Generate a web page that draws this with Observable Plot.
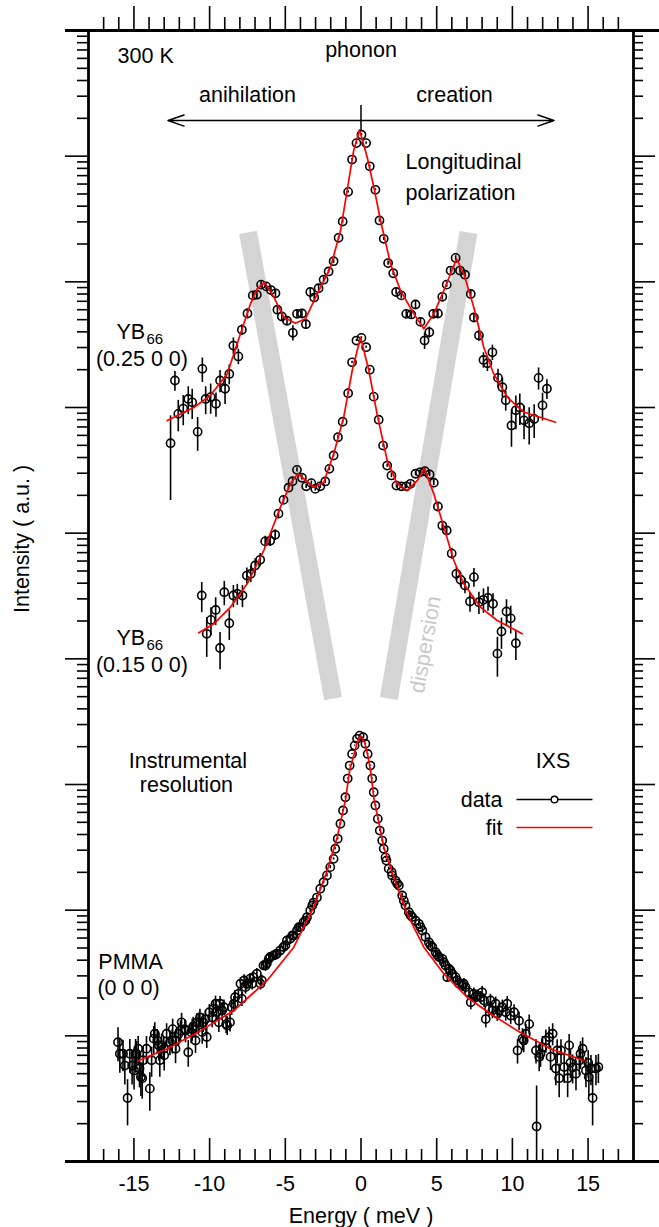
<!DOCTYPE html>
<html><head><meta charset="utf-8">
<script src="https://cdn.jsdelivr.net/npm/d3@7"></script>
<script src="https://cdn.jsdelivr.net/npm/@observablehq/plot@0.6"></script>
<style>body{margin:0;background:#fff}</style>
</head><body><div id="chart"></div>
<script>
// ---------- YB66 (0.25 0 0) ----------
const x25 = [-12.58,-12.29,-12.07,-11.74,-11.41,-11.15,-10.79,-10.48,-10.26,-9.93,
 -9.58,-9.31,-8.98,-8.70,-8.43,-8.10,-7.87,-7.50,-7.15,-6.88,
 -6.60,-6.26,-5.95,-5.65,-5.52,-5.23,-4.89,-4.50,-4.23,-3.90,
 -3.64,-3.35,-3.09,-2.80,-2.47,-2.14,-1.81,-1.48,-1.21,-0.85,
 -0.59,-0.30,0.03,0.34,0.58,0.95,1.22,1.50,1.79,2.13,
 2.32,2.66,2.99,3.32,3.60,3.93,4.20,4.51,4.77,5.08,
 5.37,5.66,5.92,6.25,6.54,6.87,7.25,7.46,7.79,8.09,
 8.35,8.68,9.05,9.34,9.56,9.94,10.23,10.49,10.77,11.11,
 11.44,11.73,11.99,12.28];
const y25 = [5.2e5,1.64e6,8.9e5,9.8e5,1.17e6,1.10e6,6.4e5,2.03e6,1.17e6,1.21e6,
 1.07e6,1.64e6,1.41e6,1.85e6,3.11e6,2.55e6,4.15e6,5.6e6,7.8e6,7.9e6,
 9.5e6,9.2e6,8.6e6,8.1e6,6.0e6,5.3e6,4.9e6,3.93e6,5.56e6,5.6e6,
 4.6e6,8.3e6,7.5e6,8.9e6,1.04e7,1.21e7,1.46e7,2.24e7,3.02e7,5.2e7,
 9.4e7,1.27e8,1.48e8,1.27e8,8.3e7,5.4e7,3.08e7,2.2e7,1.41e7,1.17e7,
 8.3e6,7.8e6,5.56e6,5.5e6,6.6e6,4.8e6,3.41e6,3.97e6,5.56e6,5.6e6,
 7.6e6,9.5e6,1.23e7,1.55e7,1.23e7,1.14e7,8.0e6,5.2e6,3.74e6,2.39e6,
 2.25e6,2.75e6,1.72e6,1.45e6,1.14e6,7.2e5,9.5e5,1.0e6,7.9e5,7.5e5,
 8.1e5,1.72e6,1.04e6,1.41e6];
const e25 = [0.65,0.18,0.28,0.27,0.25,0.27,0.3,0.22,0.25,0.27,
 0.22,0.2,0.25,0.18,0.15,0.14,0.1,0.09,0.07,0.07,
 0.06,0.06,0.06,0.07,0.07,0.08,0.08,0.14,0.08,0.08,
 0.08,0.06,0.06,0.05,0.05,0.04,0.04,0.03,0.03,0.02,
 0.02,0.02,0.02,0.02,0.02,0.02,0.03,0.03,0.04,0.04,
 0.05,0.06,0.07,0.07,0.08,0.08,0.15,0.1,0.07,0.07,
 0.06,0.05,0.05,0.04,0.05,0.05,0.06,0.07,0.1,0.14,
 0.14,0.14,0.17,0.18,0.18,0.33,0.3,0.28,0.3,0.33,
 0.3,0.2,0.25,0.18];
const fitX25 = [-12.80,-11.04,-9.94,-8.84,-7.96,-7.30,-6.86,-6.37,-5.76,-5.10,-4.33,-3.67,-2.89,-2.01,-1.35,-0.81,-0.48,-0.10,0.41,0.85,1.29,1.95,2.61,3.49,4.15,4.81,5.47,6.31,6.79,7.45,8.11,8.77,9.66,10.75,12.85];
const fitY25 = [7.88e5,1.0e6,1.25e6,1.85e6,3.86e6,6.68e6,8.8e6,9.93e6,7.55e6,5.23e6,4.69e6,5.08e6,8.03e6,1.31e7,2.56e7,6.4e7,1.11e8,1.62e8,9.8e7,5.66e7,3.08e7,1.39e7,8.53e6,5.56e6,4.23e6,5.56e6,8.53e6,1.52e7,1.16e7,6.28e6,3.02e6,1.85e6,1.21e6,9.2e5,7.64e5];

// ---------- YB66 (0.15 0 0) ----------
const x15 = [-10.52,-10.19,-9.91,-9.60,-9.31,-9.03,-8.70,-8.43,-8.17,-7.83,
 -7.54,-7.28,-6.99,-6.66,-6.33,-6.00,-5.67,-5.45,-5.12,-4.79,
 -4.52,-4.23,-3.90,-3.62,-3.28,-3.02,-2.69,-2.36,-2.09,-1.81,
 -1.52,-1.21,-0.85,-0.59,-0.30,0.03,0.34,0.58,0.84,1.17,
 1.46,1.73,2.01,2.34,2.66,2.99,3.27,3.60,3.89,4.22,
 4.53,4.81,5.08,5.37,5.66,5.99,6.30,6.58,6.87,7.20,
 7.46,7.79,8.09,8.39,8.72,9.01,9.28,9.61,9.89,10.23];
const y15 = [3.19e4,1.58e4,2.04e4,2.45e4,1.22e4,3.39e4,1.92e4,3.19e4,3.29e4,3.19e4,
 4.6e4,4.75e4,5.53e4,6.14e4,8.6e4,8.7e4,9.7e4,1.43e5,1.84e5,2.30e5,
 2.59e5,3.19e5,2.76e5,2.36e5,2.50e5,2.25e5,2.36e5,2.58e5,3.25e5,4.15e5,
 5.8e5,7.7e5,1.30e6,2.29e6,3.41e6,3.58e6,3.02e6,2.0e6,1.22e6,8.0e5,
 4.98e5,3.45e5,2.88e5,2.39e5,2.36e5,2.36e5,2.47e5,2.97e5,3.05e5,3.11e5,
 2.93e5,2.52e5,1.63e5,1.15e5,1.05e5,6.9e4,4.75e4,4.26e4,3.83e4,2.86e4,
 4.47e4,2.82e4,2.95e4,3.06e4,2.74e4,1.10e4,1.65e4,2.38e4,2.10e4,1.33e4];
const e15 = [0.27,0.35,0.25,0.25,0.33,0.22,0.27,0.2,0.19,0.2,
 0.15,0.15,0.13,0.12,0.1,0.1,0.1,0.07,0.06,0.05,
 0.05,0.04,0.04,0.04,0.04,0.04,0.04,0.04,0.03,0.03,
 0.03,0.02,0.02,0.02,0.02,0.02,0.02,0.02,0.02,0.02,
 0.03,0.03,0.04,0.04,0.04,0.04,0.04,0.04,0.04,0.04,
 0.04,0.05,0.06,0.07,0.08,0.1,0.12,0.13,0.14,0.18,
 0.17,0.2,0.22,0.22,0.2,0.35,0.28,0.24,0.25,0.27];
const fitX15 = [-10.71,-9.72,-8.62,-7.52,-6.42,-5.32,-4.66,-4.17,-3.12,-2.46,-1.80,-1.14,-0.58,-0.03,0.52,1.06,1.73,2.39,3.05,3.71,4.19,4.81,5.47,6.13,6.79,7.89,9.00,10.65];
const fitY15 = [1.61e4,1.90e4,2.58e4,3.95e4,7.28e4,1.61e5,2.47e5,2.97e5,2.32e5,2.54e5,4.28e5,8.37e5,1.97e6,3.62e6,1.97e6,8.9e5,3.79e5,2.47e5,2.18e5,2.62e5,3.25e5,2.06e5,1.12e5,6.06e4,3.95e4,2.58e4,2.02e4,1.58e4];

// ---------- PMMA (0 0 0) ----------
const xP = [-16.05,-15.93,-15.72,-15.60,-15.42,-15.27,-15.12,-14.99,-14.83,-14.72,
 -14.54,-14.39,-14.17,-13.95,-13.83,-13.62,-13.46,-13.29,-13.17,-13.00,
 -12.84,-12.62,-12.44,-12.23,-12.05,-11.85,-11.63,-11.41,-11.22,-11.08,
 -10.85,-10.64,-10.42,-10.19,-10.02,-9.75,-9.53,-9.31,-9.05,-8.91,
 -8.65,-8.54,-8.32,-8.10,-7.87,-7.72,-7.54,-7.32,-7.11,-6.88,
 -6.55,-6.44,-6.22,-6.00,-5.78,-5.56,-5.34,-5.12,-4.89,-4.68,
 -4.46,-4.23,-4.01,-3.79,-3.57,-3.35,-3.13,-2.91,-2.69,-2.47,
 -2.25,-2.03,-1.81,-1.70,-1.54,-1.36,-1.19,-1.03,-0.88,-0.75,
 -0.59,-0.42,-0.26,-0.09,
 0.14,0.29,0.44,0.62,0.74,0.84,0.95,1.11,1.24,1.40,
 1.50,1.62,1.83,2.06,2.28,2.50,2.72,2.94,3.16,3.38,
 3.60,3.82,4.05,4.26,4.48,4.71,4.93,5.15,5.37,5.59,
 5.70,5.81,6.03,6.25,6.47,6.70,6.91,7.13,7.25,7.46,
 7.69,7.91,8.13,8.24,8.46,8.68,8.90,9.12,9.34,9.56,
 9.89,10.11,10.34,10.44,10.67,10.89,11.11,11.60,11.56,11.77,
 11.99,12.21,12.43,12.66,12.87,13.09,13.21,13.42,13.65,13.75,
 13.98,14.20,14.42,14.64,14.86,15.01,15.19,15.30,15.52,15.68,
 // second analyzer row
 -14.89,-14.63,-14.45,-13.69,-13.36,-13.03,-12.47,-12.25,-11.92,-11.59,
 -11.15,-10.93,-10.71,-10.49,-10.27,-9.83,-9.61,-9.39,-9.17,-8.84,
 -8.40,-7.96,-7.63,-7.19,-6.64,-6.31,-6.09,-5.65,-4.99,-4.54,
 -4.11,-3.67,-3.22,
 1.68,2.02,2.39,2.83,3.27,3.93,4.59,5.03,5.47,5.91,
 6.35,6.79,7.56,8.00,8.55,9.00,9.66,10.75,11.86,12.52,
 12.96,13.84,14.50,15.05];
const yP = [8.9,7.2,7.2,5.8,3.2,7.2,5.8,5.3,7.2,7.9,
 4.7,6.4,7.9,3.8,6.4,10.4,9.2,6.4,8.4,7.0,
 10.4,8.9,11.3,9.2,10.4,12.8,11.3,7.4,10.7,11.9,
 12.8,14.0,12.8,9.8,15.4,16.4,15.4,18.0,16.9,12.4,
 12.8,16.9,20.3,21.6,19.7,27.6,26.0,28.5,29.3,31.2,
 27.6,36.3,37.8,42.4,43.6,45.0,47.8,50.9,57.4,59.2,
 62.9,68.9,73.2,80.1,87.8,99.4,115,126,148,167,
 189,220,256,308,370,487,621,792,1115,1415,
 1750,2040,2310,2450,
 2380,2110,1750,1415,1115,868,681,533,430,358,
 308,263,214,189,172,157,131,109,96.3,88.2,
 82.7,77.9,68.9,61.1,55.6,50.9,46.3,42.4,41.0,36.3,
 29.3,34.2,31.2,29.3,26.0,25.2,24.4,22.2,18.5,21.6,
 20.9,20.3,19.1,13.6,16.4,15.9,18.0,15.9,16.9,15.4,
 14.5,15.4,7.64,13.2,9.5,10.4,12.4,1.9,7.64,6.8,
 8.1,9.18,9.75,10.4,5.5,4.6,7.64,5.64,4.6,8.4,
 5.6,5.0,6.36,7.9,5.3,6.1,5.5,3.2,5.5,5.64,
 7.2,5.5,4.6,9.5,8.4,7.9,9.18,7.9,11.0,11.0,
 11.3,9.18,12.8,10.7,13.6,14.0,18.0,12.8,15.9,12.1,
 18.0,26.0,24.4,26.0,26.0,36.3,41.0,44.2,52.5,62.9,
 73.2,82.7,109,
 248,201,163,119,91,73.4,52.5,44.2,38.5,33.1,
 27.6,26.0,20.3,22.2,19.1,15.0,18.0,9.18,7.2,6.8,
 7.64,6.1,7.2,4.7];
const eP = [0.3,0.3,0.28,0.3,0.4,0.3,0.3,0.3,0.25,0.25,
 0.3,0.27,0.25,0.34,0.27,0.22,0.22,0.27,0.23,0.25,
 0.2,0.22,0.2,0.22,0.2,0.18,0.19,0.24,0.19,0.18,
 0.17,0.16,0.17,0.19,0.15,0.15,0.15,0.14,0.14,0.16,
 0.16,0.14,0.13,0.12,0.13,0.11,0.11,0.1,0.1,0.1,
 0.1,0.09,0.09,0.08,0.08,0.08,0.07,0.07,0.07,0.06,
 0.06,0.05,0.05,0.05,0.05,0.04,0.04,0.04,0.03,0.03,
 0.03,0.03,0.02,0.02,0.02,0.02,0.02,0.02,0.01,0.01,
 0.01,0.01,0.01,0.01,
 0.01,0.01,0.01,0.01,0.01,0.01,0.02,0.02,0.02,0.02,
 0.02,0.02,0.03,0.03,0.03,0.03,0.04,0.04,0.04,0.05,
 0.05,0.05,0.05,0.06,0.06,0.06,0.07,0.07,0.07,0.08,
 0.09,0.08,0.09,0.09,0.1,0.1,0.1,0.11,0.13,0.11,
 0.11,0.11,0.12,0.15,0.14,0.14,0.13,0.14,0.14,0.15,
 0.15,0.15,0.22,0.17,0.2,0.19,0.18,1.1,0.22,0.24,
 0.22,0.21,0.2,0.2,0.27,0.3,0.22,0.26,0.3,0.22,
 0.26,0.27,0.24,0.22,0.27,0.25,0.27,0.4,0.27,0.26,
 0.3,0.3,0.32,0.25,0.25,0.25,0.22,0.24,0.2,0.2,
 0.2,0.21,0.18,0.2,0.17,0.17,0.15,0.17,0.16,0.17,
 0.14,0.12,0.12,0.11,0.11,0.1,0.09,0.09,0.08,0.07,
 0.06,0.06,0.05,
 0.03,0.03,0.03,0.04,0.04,0.05,0.06,0.07,0.08,0.08,
 0.09,0.1,0.11,0.11,0.12,0.13,0.14,0.2,0.22,0.22,
 0.22,0.25,0.25,0.3];
const fitXP = [-14.68,-12.80,-10.60,-8.40,-6.20,-4.44,-3.12,-2.23,-1.57,-1.02,-0.75,-0.48,-0.25,-0.03,0.25,0.45,0.65,0.85,1.51,2.17,3.05,4.15,5.47,7.01,8.55,10.32,12.52,14.72];
const fitYP = [6.36,7.88,11.0,15.9,27.6,50.7,106,207,381,760,1300,1700,2150,2455,2150,1700,1250,780,317,183,93.5,50.7,31.2,20.3,15.0,11.0,7.88,6.36];

// ---------- annotations ----------
const dispersionBands = [
  {x1: -7.46, y1: 2.47e7, x2: -1.85, y2: 4.83e3},
  {x1: 7.10, y1: 2.47e7, x2: 1.84, y2: 4.83e3}
];
const dispersionLabel = [{x: 4.26, y: 1.30e4, text: "dispersion"}];
const phononArrows = [
  {x1: 0, y1: 1.92e8, x2: -12.75, y2: 1.92e8},
  {x1: 0, y1: 1.92e8, x2: 12.75, y2: 1.92e8}
];
const centerTick = [{x: 0, y1: 2.53e8, y2: 1.57e8}];
const labelsMiddle = [
  {x: 0, y: 6.1e8, text: "phonon"},
  {x: -7.50, y: 2.72e8, text: "anihilation"},
  {x: 6.18, y: 2.72e8, text: "creation"},
  {x: -14.47, y: 2.15e6, text: "(0.25 0 0)"},
  {x: -14.47, y: 7.9e3, text: "(0.15 0 0)"},
  {x: -11.43, y: 1365, text: "Instrumental"},
  {x: -11.53, y: 864, text: "resolution"},
  {x: -15.22, y: 34.3, text: "PMMA"},
  {x: -15.36, y: 21.3, text: "(0 0 0)"},
  {x: 12.68, y: 1365, text: "IXS"}
];
const labelsStart = [
  {x: -16.08, y: 5.56e8, text: "300 K"},
  {x: 2.94, y: 7.97e7, text: "Longitudinal"},
  {x: 2.94, y: 4.44e7, text: "polarization"},
  {x: -16.15, y: 3.48e6, text: "YB"},
  {x: -16.15, y: 1.28e4, text: "YB"}
];
const labelsSub = [
  {x: -14.17, y: 3.2e6, text: "66"},
  {x: -14.17, y: 1.17e4, text: "66"}
];
const legendItems = [
  {label: "data", x1: 10.27, x2: 15.29, xm: 12.78, y: 760, ty: 668, color: "black"},
  {label: "fit", x1: 10.27, x2: 15.29, xm: null, y: 455, ty: 400, color: "red"}
];
const legendLabelX = 9.35;

// ---------- axes ticks ----------
const xMajor = [-15, -10, -5, 0, 5, 10, 15];
const xMinor = d3.range(-17, 18).filter(v => v % 5 !== 0);
const yMajor = d3.range(0, 10).map(k => 10 ** k);
const yMinor = d3.range(0, 9).flatMap(k => d3.range(2, 10).map(m => m * 10 ** k));

// ---------- layout ----------
const W = 659, H = 1227, mL = 88, mR = 26, mT = 30, mB = 66;
const innerW = W - mL - mR, innerH = H - mT - mB;

const rows = (xs, ys, es) => xs.map((x, i) => ({
  x, y: ys[i], lo: Math.max(ys[i] * (1 - es[i]), 1), hi: ys[i] * (1 + es[i])
}));
const data = [...rows(x25, y25, e25), ...rows(x15, y15, e15), ...rows(xP, yP, eP)];
const fits = [
  ...fitX25.map((x, i) => ({set: "a", x, y: fitY25[i]})),
  ...fitX15.map((x, i) => ({set: "b", x, y: fitY15[i]})),
  ...fitXP.map((x, i) => ({set: "c", x, y: fitYP[i]}))
];

const font = "'Liberation Sans', Arial, Helvetica, sans-serif";
const fs = 21.5;

const chart = Plot.plot({
  width: W, height: H,
  marginLeft: mL, marginRight: mR, marginTop: mT, marginBottom: mB,
  x: {domain: [-18, 18], axis: null},
  y: {type: "log", domain: [1, 1e9], axis: null},
  style: {fontFamily: font, fontSize: fs + "px", background: "#fff", color: "#000"},
  marks: [
    Plot.link(dispersionBands, {x1: "x1", y1: "y1", x2: "x2", y2: "y2", stroke: "#d4d4d4", strokeWidth: 18, strokeLinecap: "butt"}),
    Plot.text(dispersionLabel, {x: "x", y: "y", text: "text", rotate: -80, fill: "#c9c9c9", fontSize: fs}),
    Plot.ruleX(data, {x: "x", y1: "lo", y2: "hi", stroke: "black", strokeWidth: 1.6}),
    Plot.dot(data, {x: "x", y: "y", r: 4.1, stroke: "black", strokeWidth: 1.6, fill: "none"}),
    Plot.line(fits, {x: "x", y: "y", z: "set", stroke: "#ff0000", strokeWidth: 1.7}),
    // frame
    Plot.ruleY([1, 1e9], {insetLeft: -23, insetRight: -26, strokeWidth: 2.8}),
    Plot.ruleX([-18, 18], {strokeWidth: 2.8}),
    // x ticks bottom (inward) and top (outward)
    Plot.tickX(xMajor, {x: d => d, insetTop: innerH - 23, strokeWidth: 1.6}),
    Plot.tickX(xMinor, {x: d => d, insetTop: innerH - 12, strokeWidth: 1.6}),
    Plot.tickX(xMajor, {x: d => d, insetTop: -24, insetBottom: innerH, strokeWidth: 1.6}),
    Plot.tickX(xMinor, {x: d => d, insetTop: -13, insetBottom: innerH, strokeWidth: 1.6}),
    // y ticks left and right (outward)
    Plot.tickY(yMajor, {y: d => d, insetLeft: -23, insetRight: innerW, strokeWidth: 1.6}),
    Plot.tickY(yMinor, {y: d => d, insetLeft: -11, insetRight: innerW, strokeWidth: 1.6}),
    Plot.tickY(yMajor, {y: d => d, insetLeft: innerW, insetRight: -22, strokeWidth: 1.6}),
    Plot.tickY(yMinor, {y: d => d, insetLeft: innerW, insetRight: -10, strokeWidth: 1.6}),
    // tick labels & axis titles
    Plot.text(xMajor, {x: d => d, text: d => String(d), frameAnchor: "bottom", dy: 29, lineAnchor: "bottom", fontSize: fs}),
    Plot.text(["Energy ( meV )"], {frameAnchor: "bottom", dy: 61, lineAnchor: "bottom", fontSize: fs}),
    Plot.text(["Intensity ( a.u. )"], {frameAnchor: "left", dx: -66, dy: 17, rotate: -90, fontSize: fs}),
    // phonon arrow
    Plot.arrow(phononArrows, {x1: "x1", y1: "y1", x2: "x2", y2: "y2", strokeWidth: 1.5, headLength: 17, headAngle: 38}),
    Plot.ruleX(centerTick, {x: "x", y1: "y1", y2: "y2", strokeWidth: 1.5}),
    // labels
    Plot.text(labelsMiddle, {x: "x", y: "y", text: "text", textAnchor: "middle", lineAnchor: "bottom", fontSize: fs}),
    Plot.text(labelsStart, {x: "x", y: "y", text: "text", textAnchor: "start", lineAnchor: "bottom", fontSize: fs}),
    Plot.text(labelsSub, {x: "x", y: "y", text: "text", textAnchor: "start", lineAnchor: "bottom", fontSize: 15}),
    // legend
    Plot.link(legendItems, {x1: "x1", x2: "x2", y1: "y", y2: "y", stroke: "color", strokeWidth: 1.6}),
    Plot.dot(legendItems.filter(d => d.xm !== null), {x: "xm", y: "y", r: 3.3, stroke: "black", strokeWidth: 1.4, fill: "white"}),
    Plot.text(legendItems, {x: () => legendLabelX, y: "ty", text: "label", textAnchor: "end", lineAnchor: "bottom", fontSize: fs})
  ]
});
document.getElementById("chart").appendChild(chart);
</script>
</body></html>
